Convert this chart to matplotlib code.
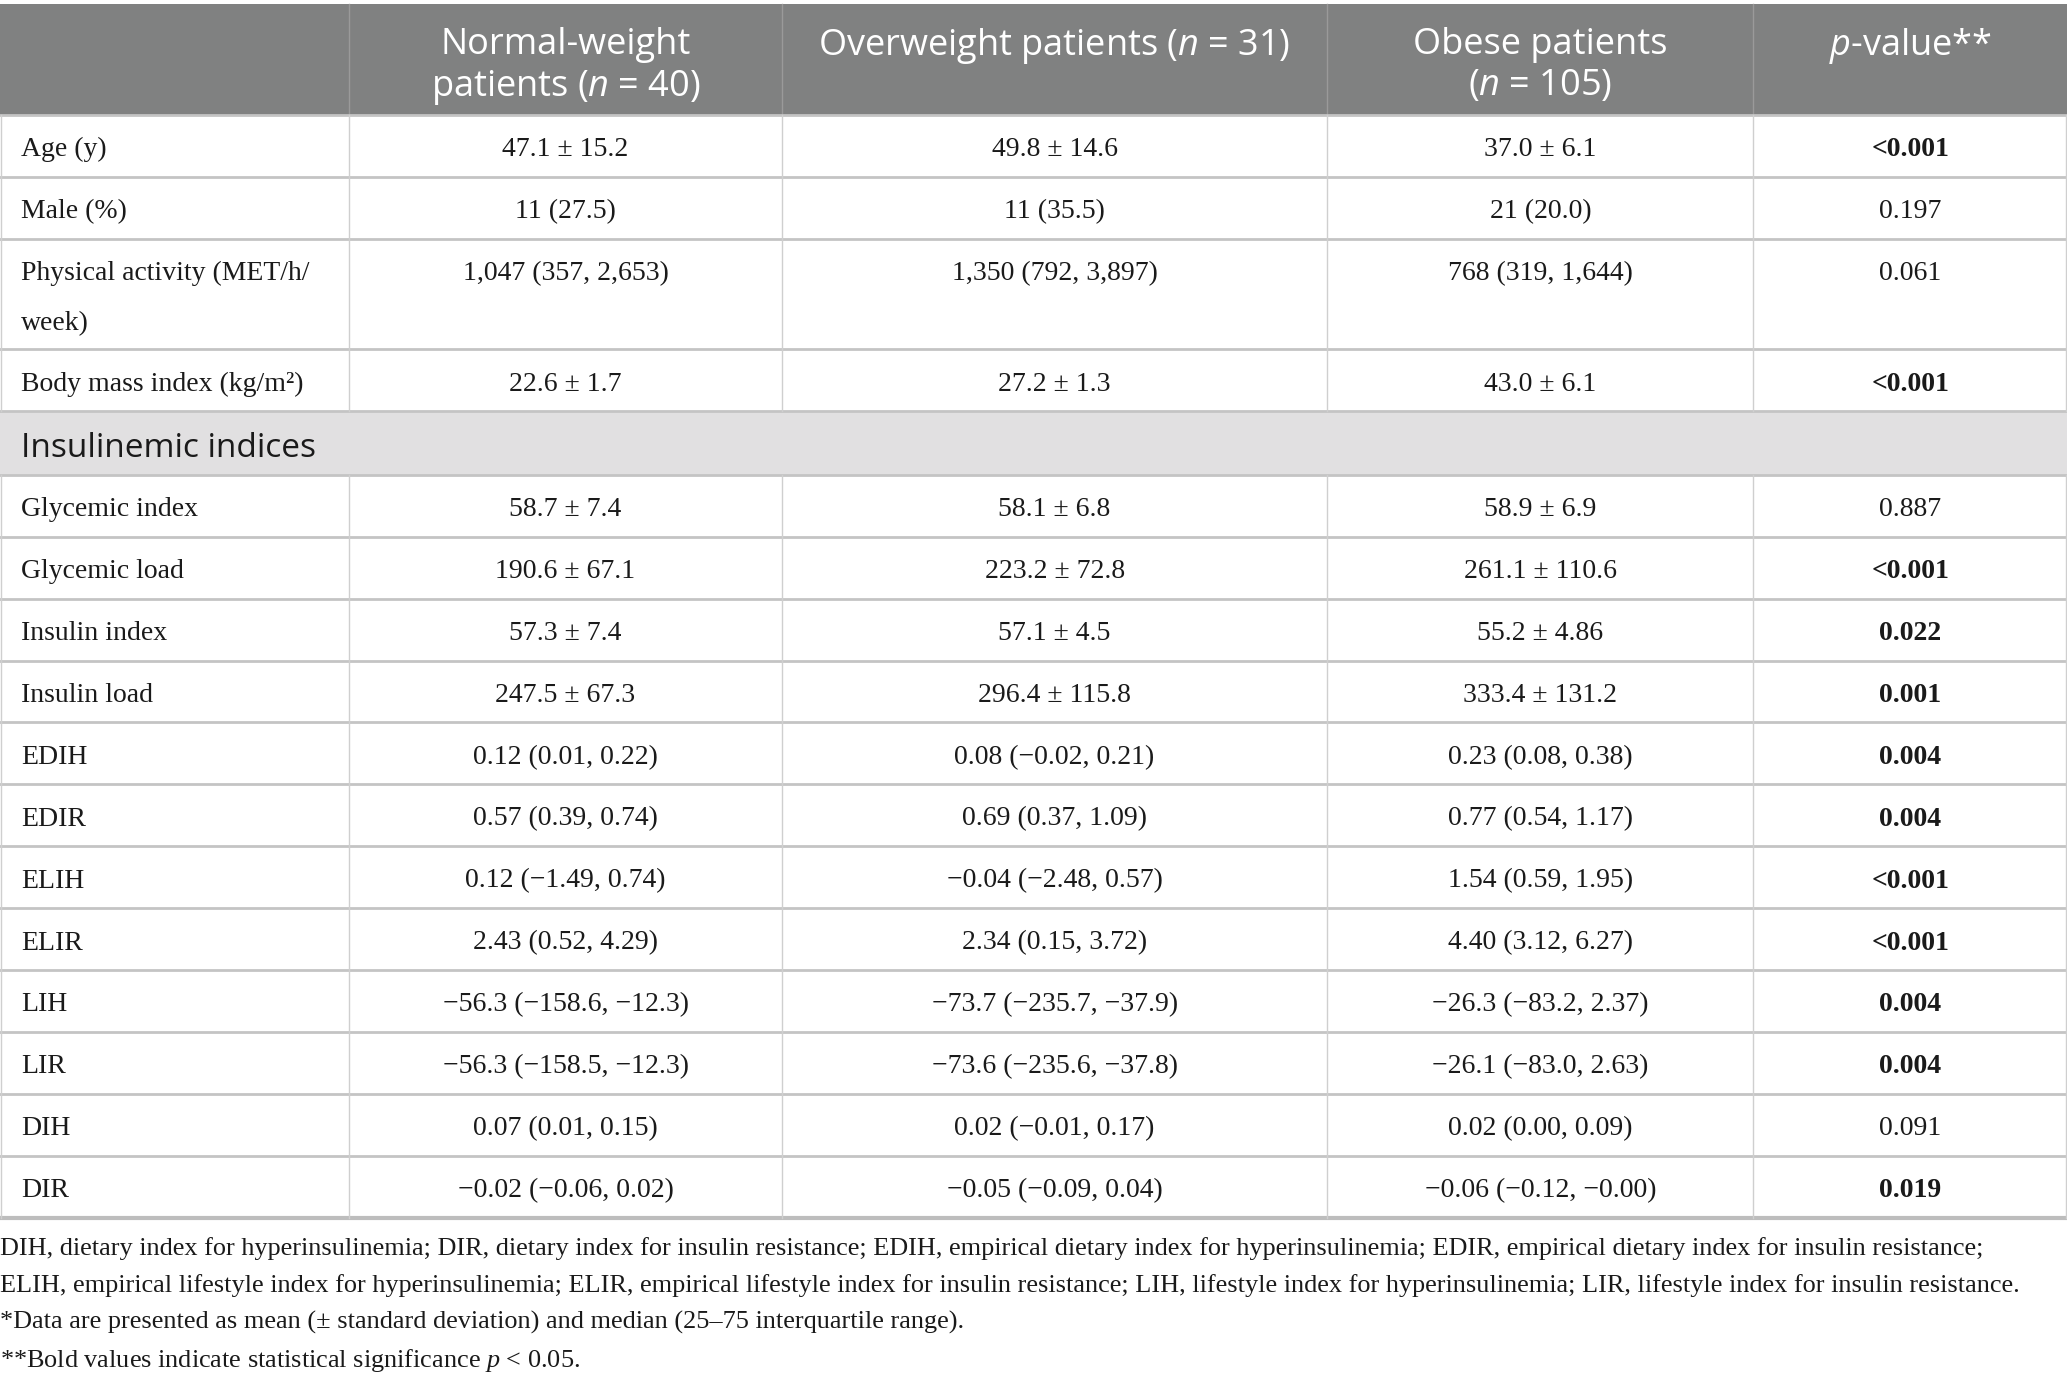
import matplotlib
matplotlib.use("Agg")
import matplotlib.pyplot as plt
from matplotlib.patches import Rectangle

plt.rcParams['mathtext.fontset'] = 'custom'
plt.rcParams['mathtext.sf'] = 'Open Sans:italic'
plt.rcParams['mathtext.it'] = 'Liberation Serif:italic'
plt.rcParams['mathtext.rm'] = 'Liberation Serif'

# ---------------- data ----------------
col_headers = [["Normal-weight", "patients ($\\mathsf{n}$ = 40)"],
               ["Overweight patients ($\\mathsf{n}$ = 31)"],
               ["Obese patients", "($\\mathsf{n}$ = 105)"],
               ["$\\mathsf{p}$-value**"]]

group1_labels = [["Age (y)"], ["Male (%)"], ["Physical activity (MET/h/", "week)"],
                 ["Body mass index (kg/m²)"]]
group1_normal = ["47.1 ± 15.2", "11 (27.5)", "1,047 (357, 2,653)", "22.6 ± 1.7"]
group1_over = ["49.8 ± 14.6", "11 (35.5)", "1,350 (792, 3,897)", "27.2 ± 1.3"]
group1_obese = ["37.0 ± 6.1", "21 (20.0)", "768 (319, 1,644)", "43.0 ± 6.1"]
group1_p = ["<0.001", "0.197", "0.061", "<0.001"]
group1_sig = [True, False, False, True]

section_title = "Insulinemic indices"

group2_labels = ["Glycemic index", "Glycemic load", "Insulin index", "Insulin load",
                 "EDIH", "EDIR", "ELIH", "ELIR", "LIH", "LIR", "DIH", "DIR"]
group2_normal = ["58.7 ± 7.4", "190.6 ± 67.1", "57.3 ± 7.4", "247.5 ± 67.3",
                 "0.12 (0.01, 0.22)", "0.57 (0.39, 0.74)", "0.12 (−1.49, 0.74)",
                 "2.43 (0.52, 4.29)", "−56.3 (−158.6, −12.3)", "−56.3 (−158.5, −12.3)",
                 "0.07 (0.01, 0.15)", "−0.02 (−0.06, 0.02)"]
group2_over = ["58.1 ± 6.8", "223.2 ± 72.8", "57.1 ± 4.5", "296.4 ± 115.8",
               "0.08 (−0.02, 0.21)", "0.69 (0.37, 1.09)", "−0.04 (−2.48, 0.57)",
               "2.34 (0.15, 3.72)", "−73.7 (−235.7, −37.9)", "−73.6 (−235.6, −37.8)",
               "0.02 (−0.01, 0.17)", "−0.05 (−0.09, 0.04)"]
group2_obese = ["58.9 ± 6.9", "261.1 ± 110.6", "55.2 ± 4.86", "333.4 ± 131.2",
                "0.23 (0.08, 0.38)", "0.77 (0.54, 1.17)", "1.54 (0.59, 1.95)",
                "4.40 (3.12, 6.27)", "−26.3 (−83.2, 2.37)", "−26.1 (−83.0, 2.63)",
                "0.02 (0.00, 0.09)", "−0.06 (−0.12, −0.00)"]
group2_p = ["0.887", "<0.001", "0.022", "0.001", "0.004", "0.004", "<0.001",
            "<0.001", "0.004", "0.004", "0.091", "0.019"]
group2_sig = [False, True, True, True, True, True, True, True, True, True, False, True]

footnotes = [
    "DIH, dietary index for hyperinsulinemia; DIR, dietary index for insulin resistance; EDIH, empirical dietary index for hyperinsulinemia; EDIR, empirical dietary index for insulin resistance;",
    "ELIH, empirical lifestyle index for hyperinsulinemia; ELIR, empirical lifestyle index for insulin resistance; LIH, lifestyle index for hyperinsulinemia; LIR, lifestyle index for insulin resistance.",
    "*Data are presented as mean (± standard deviation) and median (25–75 interquartile range).",
    "**Bold values indicate statistical significance $p$ < 0.05.",
]

# ---------------- layout (reference coords, 1568 x 1049 canvas) ----------------
W, H = 1568.0, 1049.0
col_x = [0, 265, 593, 1007, 1330, 1568]
header_top, header_bot = 3, 87
row_h = 47
serif = "Liberation Serif"
sans = "Open Sans"
body_fs = 20
head_fs = 26
sec_fs = 24
foot_fs = 18.9
txt_col = "#1a1a1a"
line_col = "#c4c4c4"
vline_col = "#cfcfcf"

fig = plt.figure(figsize=(20.67, 13.83), dpi=100)
ax = fig.add_axes([0, 0, 1, 1])
ax.set_xlim(0, W)
ax.set_ylim(H, 0)
ax.axis("off")

# header
ax.add_patch(Rectangle((0, header_top), W, header_bot - header_top,
                       facecolor="#808181", edgecolor="none"))
for i, lines in enumerate(col_headers):
    cx = (col_x[i + 1] + col_x[i + 2]) / 2
    for li, h in enumerate(lines):
        ax.text(cx, 31 + 31 * li, h, ha="center", va="center_baseline",
                fontsize=head_fs, family=sans, color="white")
for x in col_x[1:-1]:
    ax.plot([x, x], [header_top, header_bot], color="#9a9a9a", lw=1)

hlines = [header_bot]
vsegs = []

def draw_row(y0, h, label_lines, vals, pval, sig):
    ty = y0 + 24
    for li, lab in enumerate(label_lines):
        ax.text(16, ty + 38 * li, lab, ha="left", va="center_baseline", fontsize=body_fs,
                family=serif, color=txt_col)
    for j, v in enumerate(vals):
        cx = (col_x[j + 1] + col_x[j + 2]) / 2
        ax.text(cx, ty, v, ha="center", va="center_baseline", fontsize=body_fs,
                family=serif, color=txt_col)
    cx = (col_x[4] + col_x[5]) / 2
    ax.text(cx, ty, pval, ha="center", va="center_baseline", fontsize=body_fs,
            family=serif, color=txt_col, fontweight="bold" if sig else "normal")
    vsegs.append((y0, y0 + h))
    hlines.append(y0 + h)

y = header_bot
for k, lab in enumerate(group1_labels):
    h = 84 if len(lab) > 1 else row_h
    draw_row(y, h, lab, [group1_normal[k], group1_over[k], group1_obese[k]],
             group1_p[k], group1_sig[k])
    y += h

# section row
sec_h = 48
ax.add_patch(Rectangle((0, y), W, sec_h, facecolor="#e1e0e1", edgecolor="none"))
ax.text(16, y + sec_h / 2 + 1, section_title, ha="left", va="center_baseline",
        fontsize=sec_fs, family=sans, color=txt_col)
y += sec_h
hlines.append(y)

for k, lab in enumerate(group2_labels):
    draw_row(y, row_h, [lab], [group2_normal[k], group2_over[k], group2_obese[k]],
             group2_p[k], group2_sig[k])
    y += row_h
table_bot = y

for yy in hlines[:-1]:
    ax.plot([0, W], [yy, yy], color=line_col, lw=2)
ax.plot([0, W], [table_bot, table_bot], color="#bdbdbd", lw=3)
for (a, b) in vsegs:
    for x in col_x[1:-1]:
        ax.plot([x, x], [a, b], color=vline_col, lw=1)
    ax.plot([1, 1], [a, b], color=vline_col, lw=1)
    ax.plot([W - 1, W - 1], [a, b], color=vline_col, lw=1)

# footnotes
for i, fn in enumerate(footnotes):
    ax.text(0, 945 + i * 28, fn, ha="left", va="center_baseline", fontsize=foot_fs,
            family=serif, color=txt_col)

fig.savefig("out.png", dpi=100)
